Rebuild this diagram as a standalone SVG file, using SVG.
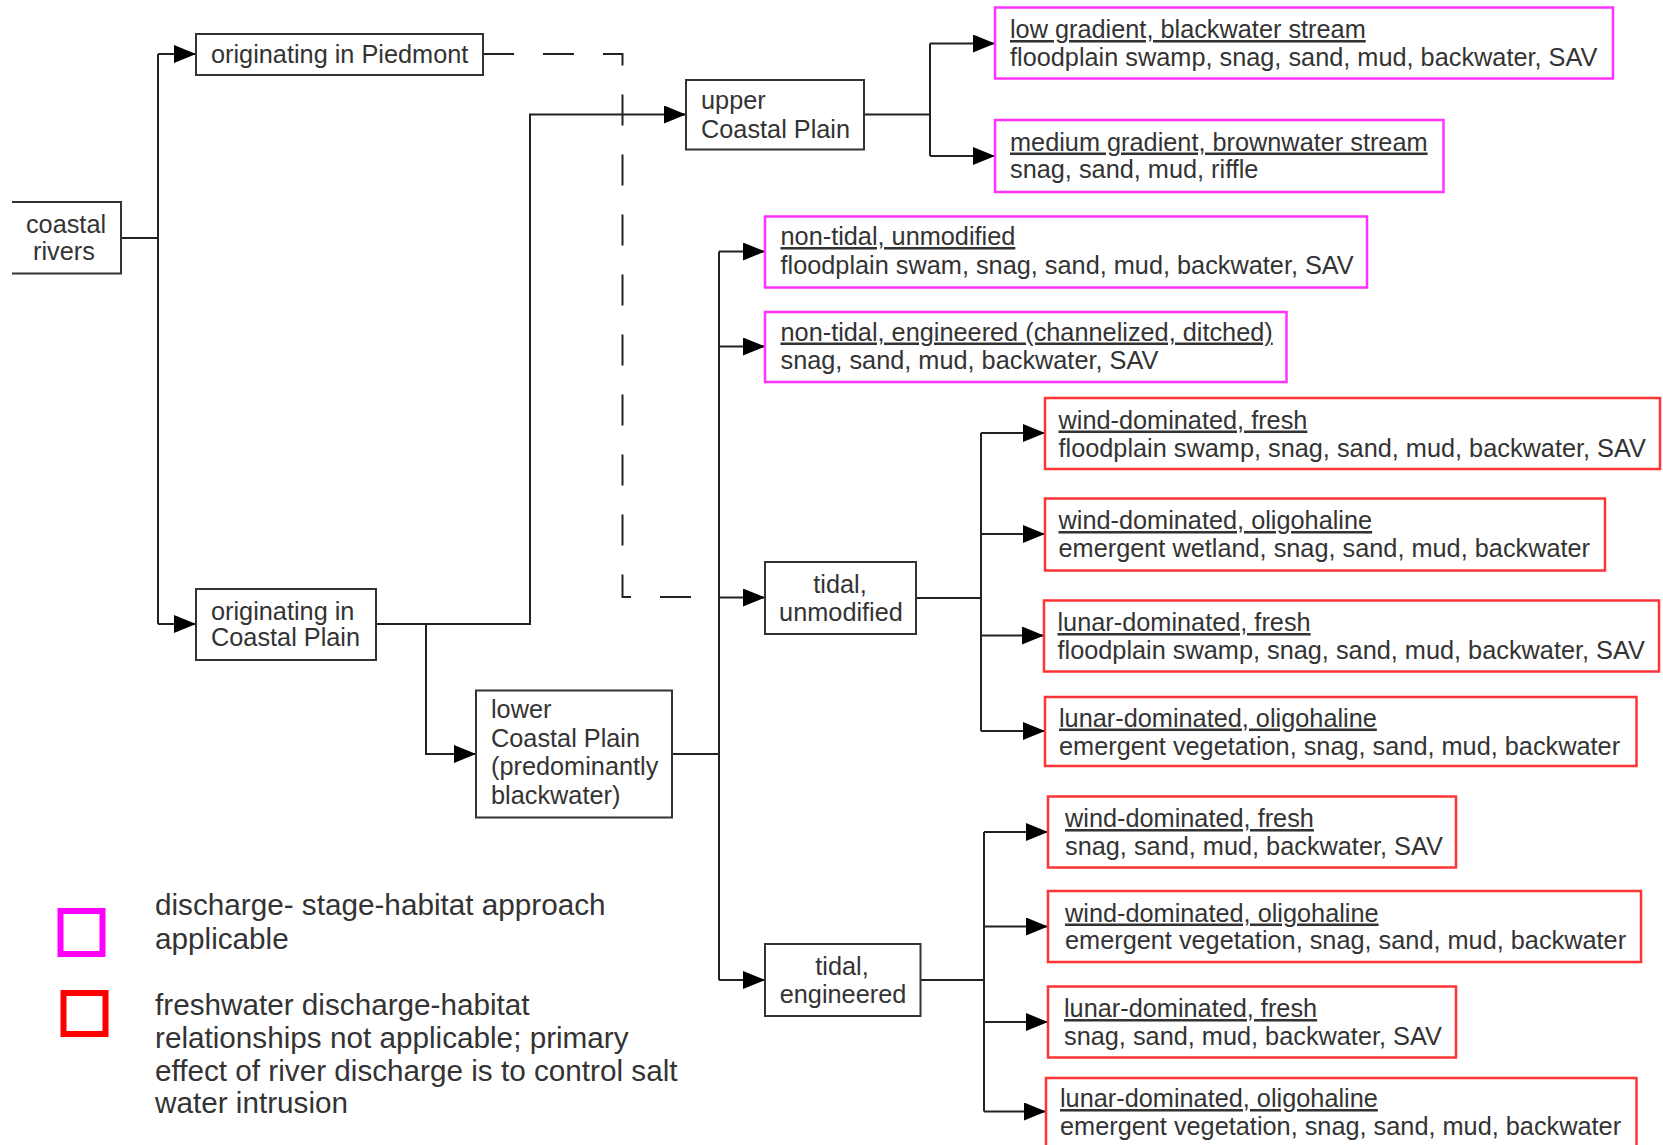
<svg xmlns="http://www.w3.org/2000/svg" width="1663" height="1145" viewBox="0 0 1663 1145">
<style>
  text { font-family: "Liberation Sans", Arial, sans-serif; font-size: 25.3px; fill: #333; }
  .box { fill: #fff; stroke: #333; stroke-width: 2; }
  .mag { fill: #fff; stroke: #ff33ff; stroke-width: 2.5; }
  .red { fill: #fff; stroke: #ff3333; stroke-width: 2.5; }
  .u { text-decoration: underline; }
  .c { text-anchor: middle; }
  .leg { font-size: 29.7px; }
  .conn { fill: none; stroke: #222; stroke-width: 2; }
  .arr { marker-end: url(#ah); }
  .dash { fill: none; stroke: #222; stroke-width: 2; stroke-dasharray: 31 29; }
</style>
<defs>
  <marker id="ah" markerUnits="userSpaceOnUse" markerWidth="22" markerHeight="18" refX="22" refY="9" orient="auto">
    <path d="M0,0 L22,9 L0,18 Z" fill="#000"/>
  </marker>
</defs>
<rect width="1663" height="1145" fill="#fff"/>

<g id="connectors">
  <path class="conn" d="M121,238 H158"/>
  <path class="conn" d="M158,54 V624"/>
  <path class="conn arr" d="M158,54 H196"/>
  <path class="conn arr" d="M158,624 H196"/>
  <path class="dash" d="M483,54 H622.5 V597 H719"/>
  <path class="conn arr" d="M376,624 H530 V114.5 H686"/>
  <path class="conn arr" d="M426,624 V754 H476"/>
  <path class="conn" d="M864,114.5 H930"/>
  <path class="conn" d="M930,43.5 V156"/>
  <path class="conn arr" d="M930,43.5 H995"/>
  <path class="conn arr" d="M930,156 H995"/>
  <path class="conn" d="M672,754 H719"/>
  <path class="conn" d="M719,251.5 V980"/>
  <path class="conn arr" d="M719,251.5 H765"/>
  <path class="conn arr" d="M719,346.5 H765"/>
  <path class="conn arr" d="M719,597.5 H765"/>
  <path class="conn arr" d="M719,980 H765"/>
  <path class="conn" d="M916,598 H981"/>
  <path class="conn" d="M981,433 V731"/>
  <path class="conn arr" d="M981,433 H1045"/>
  <path class="conn arr" d="M981,534 H1045"/>
  <path class="conn arr" d="M981,635.5 H1044"/>
  <path class="conn arr" d="M981,731 H1045"/>
  <path class="conn" d="M920,980 H984"/>
  <path class="conn" d="M984,832 V1111.5"/>
  <path class="conn arr" d="M984,832 H1048"/>
  <path class="conn arr" d="M984,926.5 H1048"/>
  <path class="conn arr" d="M984,1022 H1048"/>
  <path class="conn arr" d="M984,1111.5 H1046"/>
</g>

<g id="coastal-rivers">
  <path d="M12,202 H121 V273.5 H12" fill="#fff" stroke="#333" stroke-width="2"/>
  <text class="c" x="66" y="233">coastal</text>
  <text class="c" x="64" y="260">rivers</text>
</g>

<g id="piedmont">
  <rect class="box" x="196" y="34" width="287" height="41"/>
  <text x="211" y="63">originating in Piedmont</text>
</g>

<g id="coastal-plain">
  <rect class="box" x="196" y="589" width="180" height="71"/>
  <text x="211" y="619.5">originating in</text>
  <text x="211" y="646">Coastal Plain</text>
</g>

<g id="upper-cp">
  <rect class="box" x="686" y="80" width="178" height="69.5"/>
  <text x="701" y="109">upper</text>
  <text x="701" y="138">Coastal Plain</text>
</g>

<g id="lower-cp">
  <rect class="box" x="476" y="690.5" width="196" height="127"/>
  <text x="491" y="718">lower</text>
  <text x="491" y="746.5">Coastal Plain</text>
  <text x="491" y="775">(predominantly</text>
  <text x="491" y="803.5">blackwater)</text>
</g>

<g id="tidal-unmodified">
  <rect class="box" x="765" y="562" width="151" height="72"/>
  <text class="c" x="840" y="593">tidal,</text>
  <text class="c" x="841" y="620.5">unmodified</text>
</g>

<g id="tidal-engineered">
  <rect class="box" x="765" y="944" width="155.5" height="72"/>
  <text class="c" x="842" y="974.5">tidal,</text>
  <text class="c" x="843" y="1002.5">engineered</text>
</g>

<g id="low-gradient">
  <rect class="mag" x="995" y="7.5" width="618" height="71"/>
  <text class="u" x="1010" y="38">low gradient, blackwater stream</text>
  <text x="1010" y="66">floodplain swamp, snag, sand, mud, backwater, SAV</text>
</g>

<g id="medium-gradient">
  <rect class="mag" x="995" y="120" width="448.5" height="72"/>
  <text class="u" x="1010" y="150.5">medium gradient, brownwater stream</text>
  <text x="1010" y="178">snag, sand, mud, riffle</text>
</g>

<g id="non-tidal-unmodified">
  <rect class="mag" x="765" y="216.5" width="602" height="71"/>
  <text class="u" x="780.5" y="245">non-tidal, unmodified</text>
  <text x="780.5" y="273.5">floodplain swam, snag, sand, mud, backwater, SAV</text>
</g>

<g id="non-tidal-engineered">
  <rect class="mag" x="765" y="312" width="521.5" height="70"/>
  <text class="u" x="780.5" y="340.5">non-tidal, engineered (channelized, ditched)</text>
  <text x="780.5" y="369">snag, sand, mud, backwater, SAV</text>
</g>

<g id="tu-wind-fresh">
  <rect class="red" x="1045" y="398" width="615" height="71"/>
  <text class="u" x="1058.5" y="428.5">wind-dominated, fresh</text>
  <text x="1058.5" y="457">floodplain swamp, snag, sand, mud, backwater, SAV</text>
</g>

<g id="tu-wind-oligohaline">
  <rect class="red" x="1045" y="498.5" width="560" height="72"/>
  <text class="u" x="1058.5" y="529">wind-dominated, oligohaline</text>
  <text x="1058.5" y="557">emergent wetland, snag, sand, mud, backwater</text>
</g>

<g id="tu-lunar-fresh">
  <rect class="red" x="1044" y="600.5" width="615" height="71"/>
  <text class="u" x="1057.5" y="631">lunar-dominated, fresh</text>
  <text x="1057.5" y="658.5">floodplain swamp, snag, sand, mud, backwater, SAV</text>
</g>

<g id="tu-lunar-oligohaline">
  <rect class="red" x="1045" y="697" width="591.5" height="69"/>
  <text class="u" x="1059" y="726.5">lunar-dominated, oligohaline</text>
  <text x="1059" y="755">emergent vegetation, snag, sand, mud, backwater</text>
</g>

<g id="te-wind-fresh">
  <rect class="red" x="1048" y="796.5" width="408" height="71"/>
  <text class="u" x="1065" y="827">wind-dominated, fresh</text>
  <text x="1065" y="855">snag, sand, mud, backwater, SAV</text>
</g>

<g id="te-wind-oligohaline">
  <rect class="red" x="1048" y="891" width="593" height="71"/>
  <text class="u" x="1065" y="921.5">wind-dominated, oligohaline</text>
  <text x="1065" y="949">emergent vegetation, snag, sand, mud, backwater</text>
</g>

<g id="te-lunar-fresh">
  <rect class="red" x="1048" y="986.5" width="408" height="71"/>
  <text class="u" x="1064" y="1017">lunar-dominated, fresh</text>
  <text x="1064" y="1044.5">snag, sand, mud, backwater, SAV</text>
</g>

<g id="te-lunar-oligohaline">
  <rect class="red" x="1046" y="1078" width="590.5" height="80"/>
  <text class="u" x="1060" y="1107">lunar-dominated, oligohaline</text>
  <text x="1060" y="1135">emergent vegetation, snag, sand, mud, backwater</text>
</g>

<g id="legend">
  <rect x="60.5" y="911" width="42" height="43" fill="none" stroke="#ff00ff" stroke-width="6"/>
  <rect x="63.5" y="993" width="42" height="41" fill="none" stroke="#ff0000" stroke-width="6"/>
  <text class="leg" x="155" y="915">discharge- stage-habitat approach</text>
  <text class="leg" x="155" y="948.5">applicable</text>
  <text class="leg" x="155" y="1014.5">freshwater discharge-habitat</text>
  <text class="leg" x="155" y="1047.5">relationships not applicable; primary</text>
  <text class="leg" x="155" y="1081">effect of river discharge is to control salt</text>
  <text class="leg" x="155" y="1113">water intrusion</text>
</g>
</svg>
